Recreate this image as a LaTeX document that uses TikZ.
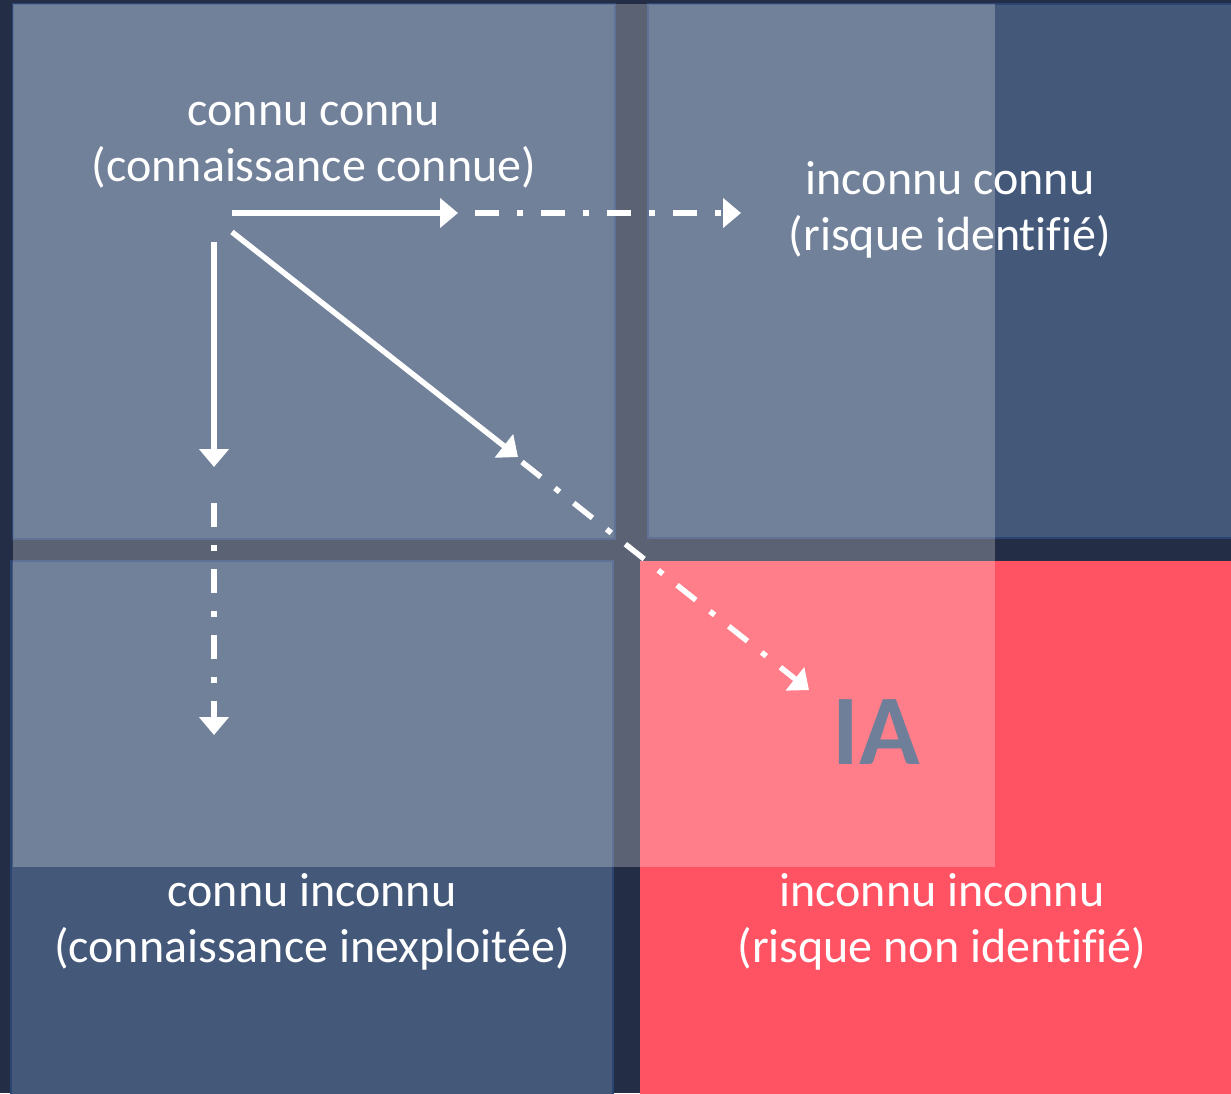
\documentclass[tikz,border=0pt]{standalone}
\usepackage{fontspec}
\setmainfont[Ligatures={NoCommon}]{Carlito}
\usetikzlibrary{arrows.meta}
\definecolor{bgdark}{HTML}{232E46}
\definecolor{navy}{HTML}{445879}
\definecolor{navyedge}{HTML}{2C4472}
\definecolor{redbox}{HTML}{FF5364}
\definecolor{iagrey}{HTML}{6F7F99}
\tikzset{
  quad/.style={fill=navy, draw=navyedge, line width=1.5pt},
  redquad/.style={fill=redbox},
  lbl/.style={text=white, align=center, font=\fontsize{48}{56}\selectfont, inner sep=0pt},
  solidarrow/.style={draw=white, line width=5.5pt, -{Triangle[length=18pt,width=29pt]}},
  dasharrow/.style={draw=white, line width=5.5pt, dash pattern=on 24pt off 18pt on 6pt off 18pt, -{Triangle[length=18pt,width=29pt]}},
}
\begin{document}
\begin{tikzpicture}[x=1pt,y=-1pt]
\useasboundingbox (0,0) rectangle (1231,1093);
\fill[bgdark] (0,0) rectangle (1231,1093);
% quadrants
\path[quad] (13,4) rectangle (615,539);
\path[quad] (648,4) rectangle (1240,538);
\path[quad] (11,561) rectangle (613,1100);
\path[redquad] (640,561) rectangle (1240,1100);
% translucent overlay
\fill[white, opacity=0.25] (13,4) rectangle (995,867);
% labels
\node[lbl] (kk) at (314,145) {connu connu\\(connaissance connue)};
\node[lbl] (ik) at (950,210) {inconnu connu\\(risque identifié)};
\node[lbl] (ki) at (312,922) {connu inconnu\\(connaissance inexploitée)};
\node[lbl] (ii) at (942,922) {inconnu inconnu\\(risque non identifié)};
\node[text=iagrey, font=\fontsize{100}{100}\selectfont\bfseries, inner sep=0pt] (ia) at (876,732) {IA};
% arrow points
\coordinate (h0) at (232,213);
\coordinate (h1) at (458,213);
\coordinate (h2) at (475,213);
\coordinate (h3) at (741,213);
\coordinate (v0) at (214,242);
\coordinate (v1) at (214,467);
\coordinate (v2) at (214,503);
\coordinate (v3) at (214,735);
\coordinate (d0) at (232,232);
\coordinate (d1) at (518,457);
\coordinate (d2) at (522,462);
\coordinate (d3) at (809,690);
% arrows
\draw[solidarrow] (h0) -- (h1);
\draw[dasharrow] (h2) -- (h3);
\draw[solidarrow] (v0) -- (v1);
\draw[dasharrow] (v2) -- (v3);
\draw[solidarrow] (d0) -- (d1);
\draw[dasharrow] (d2) -- (d3);
\end{tikzpicture}
\end{document}
